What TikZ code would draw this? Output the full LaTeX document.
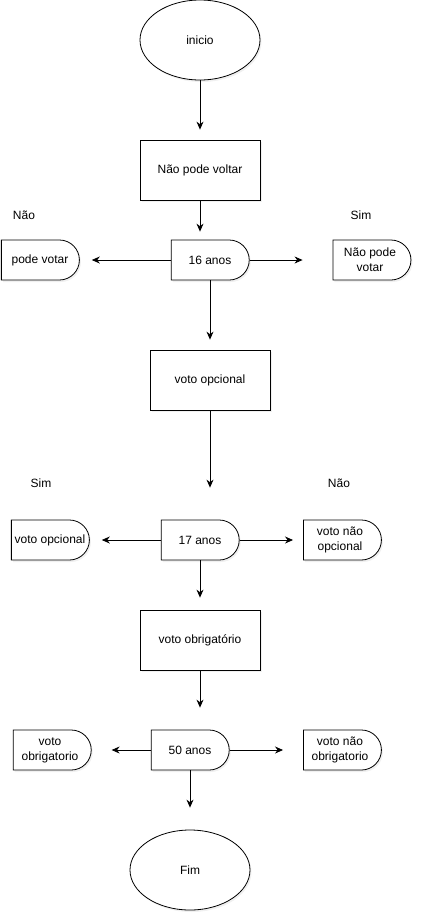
\documentclass[tikz,border=0pt]{standalone}
\usepackage{fontspec}
\setmainfont{Liberation Sans}
\usetikzlibrary{shapes.geometric,shapes.misc,arrows.meta,shadows}

\tikzset{
  softshadow/.style={drop shadow={opacity=0.12, shadow xshift=1.5pt, shadow yshift=-2pt}},
  startstop/.style={ellipse, draw, fill=white, softshadow, minimum width=120pt, minimum height=80pt, inner sep=0pt},
  process/.style={rectangle, draw, fill=white, softshadow, minimum width=120pt, minimum height=60pt},
  delaybox/.style={rounded rectangle, rounded rectangle west arc=none, draw, fill=white, softshadow,
    minimum width=80pt, minimum height=40pt, inner sep=1pt, align=center},
  answer/.style={inner sep=0pt},
  arrow/.style={-{Stealth[length=8pt,width=7pt]}},
}

\begin{document}
\begin{tikzpicture}[x=1pt, y=-1pt, font=\fontsize{12pt}{15pt}\selectfont, line width=0.8pt]
\useasboundingbox (0,0) rectangle (422,922);

% main column
\node[startstop] (inicio) at (200,40) {inicio};
\node[process] (voltar) at (200,170) {Não pode voltar};
\node[delaybox] (idade16) at (210,260) {16 anos};
\node[process] (opcional) at (210,380) {voto opcional};
\node[delaybox] (idade17) at (200,540) {17 anos};
\node[process] (obrigatorio) at (200,640) {voto obrigatório};
\node[delaybox] (idade50) at (190,750) {50 anos};
\node[startstop] (fim) at (190,870) {Fim};

% side answers
\node[delaybox] (podevotar) at (40,260) {pode votar};
\node[delaybox] (naopodevotar) at (370,260) {Não pode\\votar};
\node[delaybox] (opcional17) at (50,540) {voto opcional};
\node[delaybox] (naoopcional) at (340,540) {voto não\\opcional};
\node[delaybox] (obrigatorio50) at (50,750) {voto\\obrigatorio};
\node[delaybox] (naoobrigatorio) at (340,750) {voto não\\obrigatorio};

\node[answer] (nao16) at (24,215) {Não};
\node[answer] (sim16) at (361,215) {Sim};
\node[answer] (sim17) at (41,483) {Sim};
\node[answer] (nao17) at (339,483) {Não};

% connectors
\draw[arrow, shorten >=10pt] (inicio) -- (voltar);
\draw[arrow, shorten >=8pt] (voltar.south) -- (voltar.south |- idade16.north);
\draw[arrow, shorten >=12pt] (idade16.west) -- (podevotar.east);
\draw[arrow, shorten >=30pt] (idade16.east) -- (naopodevotar.west);
\draw[arrow, shorten >=10pt] (idade16.south) -- (opcional.north);
\draw[arrow, shorten >=32pt] (opcional.south) -- (opcional.south |- idade17.north);
\draw[arrow, shorten >=12pt] (idade17.west) -- (opcional17.east);
\draw[arrow, shorten >=10pt] (idade17.east) -- (naoopcional.west);
\draw[arrow, shorten >=12pt] (idade17.south) -- (obrigatorio.north);
\draw[arrow, shorten >=22pt] (obrigatorio.south) -- (obrigatorio.south |- idade50.north);
\draw[arrow, shorten >=20pt] (idade50.west) -- (obrigatorio50.east);
\draw[arrow, shorten >=20pt] (idade50.east) -- (naoobrigatorio.west);
\draw[arrow, shorten >=22pt] (idade50.south) -- (fim.north);
\end{tikzpicture}
\end{document}
